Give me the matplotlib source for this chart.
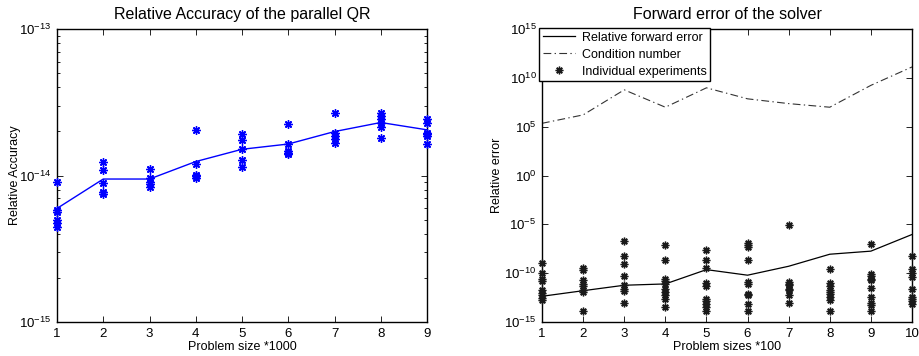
import matplotlib
matplotlib.use("Agg")
import matplotlib.pyplot as plt
from matplotlib.ticker import LogLocator, FixedLocator, NullFormatter
from matplotlib.lines import Line2D

plt.rcParams['font.family'] = ['Liberation Sans', 'DejaVu Sans']
plt.rcParams['mathtext.fontset'] = 'custom'
plt.rcParams['mathtext.rm'] = 'Liberation Sans'
plt.rcParams['mathtext.it'] = 'Liberation Sans'
plt.rcParams['mathtext.default'] = 'regular'

# ---------------- Left panel data ----------------
qr_sizes = [1, 2, 3, 4, 5, 6, 7, 8, 9]
qr_mean = [5.96e-15, 9.46e-15, 9.46e-15, 1.245e-14, 1.51e-14, 1.64e-14, 1.995e-14, 2.30e-14, 2.05e-14]
qr_runs = [
    [8.97e-15, 5.81e-15, 5.66e-15, 4.97e-15, 4.76e-15, 4.47e-15],
    [1.236e-14, 1.085e-14, 8.84e-15, 7.71e-15, 7.43e-15],
    [1.114e-14, 9.57e-15, 9.08e-15, 8.75e-15, 8.39e-15],
    [2.06e-14, 1.206e-14, 1.014e-14, 9.9e-15, 9.62e-15],
    [1.923e-14, 1.741e-14, 1.51e-14, 1.276e-14, 1.148e-14],
    [2.23e-14, 1.64e-14, 1.479e-14, 1.432e-14, 1.402e-14],
    [2.69e-14, 1.963e-14, 1.862e-14, 1.768e-14, 1.678e-14],
    [2.66e-14, 2.55e-14, 2.44e-14, 2.30e-14, 2.16e-14, 1.807e-14],
    [2.42e-14, 2.28e-14, 1.963e-14, 1.91e-14, 1.862e-14, 1.64e-14],
]

# ---------------- Right panel data ----------------
solver_sizes = [1, 2, 3, 4, 5, 6, 7, 8, 9, 10]
forward_error = [4.3e-13, 1.6e-12, 5.8e-12, 7.9e-12, 2.3e-10, 6.2e-11, 5.1e-10, 8.7e-9, 1.8e-8, 9.1e-7]
condition_number = [2.2e5, 1.6e6, 5.9e8, 9.8e6, 9.5e8, 7.1e7, 2.3e7, 9.8e6, 1.7e9, 1.3e11]
solver_runs = [
    [1.1e-9, 1.1e-10, 2.8e-11, 1.6e-11, 1.8e-12, 9.3e-13, 5.4e-13, 3.1e-13, 1.7e-13],
    [3.5e-10, 2.3e-10, 1.9e-11, 8.5e-12, 4.6e-12, 1.8e-12, 1.1e-12, 1.5e-14],
    [2.0e-7, 5.5e-9, 9.5e-10, 4.8e-11, 5.8e-12, 2.6e-12, 1.4e-12, 8.9e-14],
    [7.4e-8, 2.5e-9, 2.8e-11, 1.6e-11, 8.5e-12, 2.6e-12, 1.2e-12, 5.4e-13, 2.5e-13, 3.5e-14],
    [2.6e-8, 2.5e-9, 3.7e-10, 1.0e-11, 4.6e-12, 2.5e-13, 1.4e-13, 7.6e-14, 3.5e-14, 1.5e-14],
    [1.3e-7, 7.4e-8, 4.5e-8, 2.1e-9, 1.3e-11, 8.5e-12, 7.9e-13, 5.4e-13, 7.6e-14, 1.3e-14],
    [8.3e-6, 1.3e-11, 8.5e-12, 5.8e-12, 2.6e-12, 1.8e-12, 5.4e-13, 8.9e-14],
    [3.0e-10, 1.0e-11, 4.6e-12, 2.0e-12, 1.2e-12, 6.8e-13, 3.6e-13, 1.9e-13, 1.5e-14],
    [9.3e-8, 9.1e-11, 4.8e-11, 2.8e-11, 1.9e-11, 3.3e-12, 3.6e-13, 8.9e-14, 5.1e-14, 1.3e-14],
    [5.5e-9, 3.0e-10, 1.1e-10, 4.1e-11, 2.6e-12, 3.6e-13, 2.5e-13, 1.4e-13, 7.6e-14],
]

left_yticks = [1e-15, 1e-14, 1e-13]
left_yticklabels = ['$10^{-15}$', '$10^{-14}$', '$10^{-13}$']
right_yticks = [1e-15, 1e-10, 1e-5, 1e0, 1e5, 1e10, 1e15]
right_yticklabels = ['$10^{-15}$', '$10^{-10}$', '$10^{-5}$', '$10^{0}$', '$10^{5}$', '$10^{10}$', '$10^{15}$']

ASTER = (8, 2, 0)

fig = plt.figure(figsize=(9.19, 3.56), dpi=100)
W, H = 919, 356
axL = fig.add_axes([57 / W, 1 - 322 / H, 370 / W, 293 / H])
axR = fig.add_axes([542 / W, 1 - 322 / H, 370 / W, 293 / H])

blue = '#0000ff'
# Left panel
for xs, runs in zip(qr_sizes, qr_runs):
    axL.plot([xs] * len(runs), runs, linestyle='none', marker=ASTER, markersize=6,
             markeredgewidth=1.0, color=blue, clip_on=False, zorder=3)
axL.plot(qr_sizes, qr_mean, color=blue, lw=1.0, zorder=2)
axL.set_yscale('log')
axL.set_xlim(1, 9)
axL.set_ylim(1e-15, 1e-13)
axL.set_xticks(qr_sizes)
axL.yaxis.set_major_locator(FixedLocator(left_yticks))
axL.set_yticklabels(left_yticklabels)
axL.yaxis.set_minor_locator(LogLocator(base=10, subs=range(2, 10)))
axL.yaxis.set_minor_formatter(NullFormatter())
axL.set_title('Relative Accuracy of the parallel QR', fontsize=11.5, pad=7)
axL.set_xlabel('Problem size *1000', fontsize=9, labelpad=1)
axL.set_ylabel('Relative Accuracy', fontsize=9, labelpad=-1)

# Right panel
for xs, runs in zip(solver_sizes, solver_runs):
    axR.plot([xs] * len(runs), runs, linestyle='none', marker=ASTER, markersize=5.5,
             markeredgewidth=1.0, color='#1a1a1a', clip_on=False, zorder=3)
axR.plot(solver_sizes, forward_error, color='black', lw=0.9, zorder=2)
axR.plot(solver_sizes, condition_number, color='#333333', lw=0.8,
         dashes=(7, 3, 1.2, 3), zorder=2)
axR.set_yscale('log')
axR.set_xlim(1, 10)
axR.set_ylim(1e-15, 1e15)
axR.set_xticks(solver_sizes)
axR.yaxis.set_major_locator(FixedLocator(right_yticks))
axR.set_yticklabels(right_yticklabels)
axR.yaxis.set_minor_locator(FixedLocator([]))
axR.set_title('Forward error of the solver', fontsize=11.5, pad=7)
axR.set_xlabel('Problem sizes *100', fontsize=9, labelpad=1)
axR.set_ylabel('Relative error', fontsize=9, labelpad=1)

handles = [
    Line2D([], [], color='black', lw=0.9),
    Line2D([], [], color='#333333', lw=0.8, dashes=(7, 3, 1.2, 3)),
    Line2D([], [], linestyle='none', marker=ASTER, markersize=5.5, color='#1a1a1a', markeredgewidth=1.0),
]
leg = axR.legend(handles, ['Relative forward error', 'Condition number', 'Individual experiments'],
                 loc='upper left', bbox_to_anchor=(-0.008, 1.004), borderaxespad=0,
                 fontsize=9, frameon=True, fancybox=False, framealpha=1,
                 handlelength=2.6, handletextpad=0.5, borderpad=0.3, labelspacing=0.4)
leg.get_frame().set_edgecolor('black')
leg.get_frame().set_linewidth(1.0)

for ax in (axL, axR):
    ax.tick_params(which='both', direction='in', top=True, right=True, labelsize=9.5)
    ax.tick_params(which='major', length=4, width=0.6, pad=4)
    ax.tick_params(which='minor', length=2.5, width=0.6)
    for sp in ax.spines.values():
        sp.set_linewidth(1.0)

fig.savefig('out.png', dpi=100)
